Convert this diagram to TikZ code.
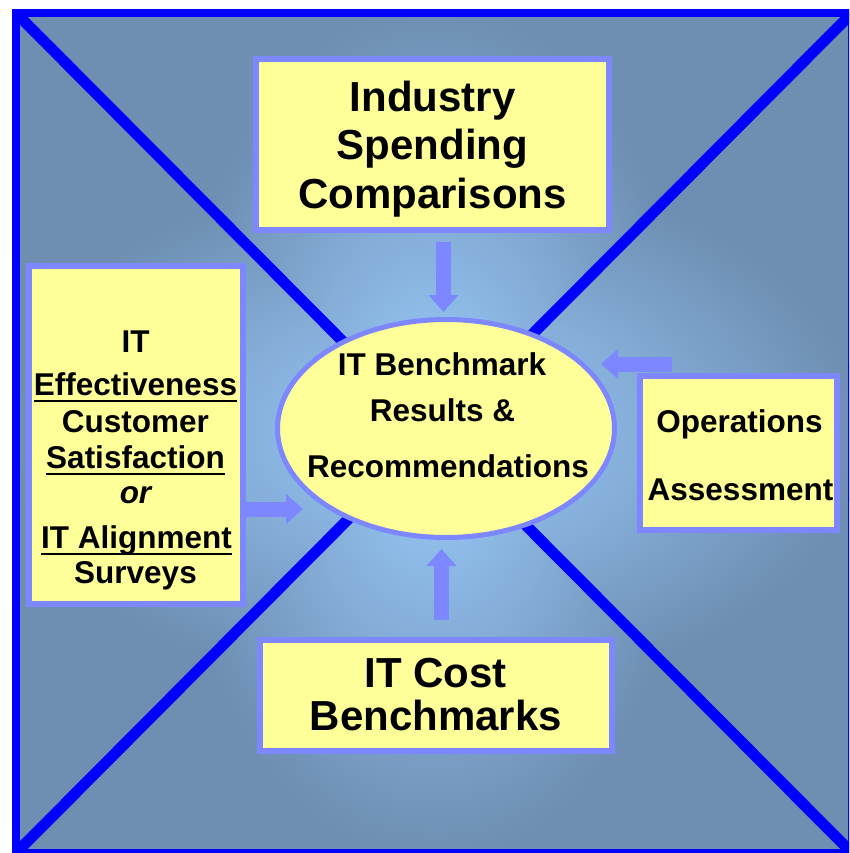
\documentclass[tikz,border=0pt]{standalone}
\usepackage{fontspec}
\setmainfont{Liberation Sans}
\usetikzlibrary{arrows.meta,shapes.geometric}
\definecolor{bgdark}{RGB}{110,142,178}
\definecolor{bglight}{RGB}{154,204,252}
\definecolor{lineblue}{RGB}{0,0,255}
\definecolor{edgeblue}{RGB}{125,135,255}
\definecolor{boxfill}{RGB}{255,255,153}
\newcommand\myul[1]{\setbox0\hbox{#1}\rlap{\rule[-7pt]{\wd0}{2.5pt}}\box0}
\begin{document}
\begin{tikzpicture}[x=1pt,y=-1pt,
  boxS/.style={draw=edgeblue, line width=6pt, fill=boxfill, inner sep=0pt, outer sep=0pt},
  bigT/.style={font=\fontsize{42}{48}\selectfont\bfseries, inner sep=0pt, anchor=base},
  midT/.style={font=\fontsize{31.5}{36}\selectfont\bfseries, inner sep=0pt, anchor=base},
  fat/.style={draw=edgeblue, line width=15pt, -{Triangle[width=29pt,length=17pt]}},
  diag/.style={draw=lineblue, line width=11pt},
  frame/.style={draw=lineblue, line width=8pt}]
\useasboundingbox (0,0) rectangle (849,853);
\clip (0,0) rectangle (849,853);
\coordinate (tl) at (16,13);
\coordinate (tr) at (852,13);
\coordinate (bl) at (16,853);
\coordinate (br) at (852,853);
\coordinate (cc) at (intersection of tl--br and tr--bl);
% background
\fill[bgdark] (tl) rectangle (br);
\begin{scope}
  \clip (tl) -- (tr) -- (cc) -- cycle (bl) -- (br) -- (cc) -- cycle;
  \shade[inner color=bglight, outer color=bgdark] (cc) ellipse [x radius=265pt, y radius=430pt];
\end{scope}
\begin{scope}
  \clip (tl) -- (bl) -- (cc) -- cycle (tr) -- (br) -- (cc) -- cycle;
  \shade[inner color=bglight, outer color=bgdark] (cc) ellipse [x radius=430pt, y radius=265pt];
\end{scope}
\draw[diag] (tl) -- (br);
\draw[diag] (tr) -- (bl);
\draw[frame] (tl) rectangle (br);
% boxes
\node[boxS, minimum width=353pt, minimum height=171pt] (topbox) at (432.5,144.5) {};
\node[boxS, minimum width=214pt, minimum height=338pt] (leftbox) at (136,435) {};
\node[boxS, minimum width=197pt, minimum height=154pt] (opbox) at (738.5,453) {};
\node[boxS, minimum width=352pt, minimum height=111pt] (botbox) at (436,695.5) {};
\node[ellipse, draw=edgeblue, line width=5pt, fill=boxfill, minimum width=337pt, minimum height=218pt, inner sep=0pt, outer sep=0pt] (res) at (446,428.5) {};
% arrows
\coordinate (ta) at ([xshift=11pt]topbox.south);
\draw[fat, shorten <=12pt, shorten >=7.5pt] (ta) -- (ta |- res.north);
\coordinate (ba) at ([xshift=5.5pt]botbox.north);
\draw[fat, shorten <=20pt, shorten >=11.5pt] (ba) -- (ba |- res.south);
\coordinate (la) at ([yshift=-74pt]leftbox.east);
\draw[fat, shorten >=143pt] (la) -- (la -| res.center);
\coordinate (ra) at ([xshift=-66.5pt,yshift=12pt]opbox.north);
\draw[fat, shorten >=155pt] (ra) -- (ra -| res.center);
% texts
\node[bigT] (t1) at (432.5,112) {Industry};
\node[bigT] (t2) at (432.5,160) {Spending};
\node[bigT] (t3) at (432.5,208) {Comparisons};
\node[bigT] (b1) at (435.5,687) {IT Cost};
\node[bigT] (b2) at (436,730) {Benchmarks};
\node[midT] (r1) at (442,375) {IT Benchmark};
\node[midT] (r2) at (442.5,421) {Results \&};
\node[midT] (r3) at (448,477) {Recommendations};
\node[midT] (o1) at (739.5,432) {Operations};
\node[midT] (o2) at (740.5,500) {Assessment};
\node[midT] (l1) at (135.5,352) {IT};
\node[midT] (l2) at (135.5,395) {\myul{Effectiveness}};
\node[midT] (l3) at (135.5,432) {Customer};
\node[midT] (l4) at (135.5,468) {\myul{Satisfaction}};
\node[midT] (l5) at (135.5,503) {\itshape or};
\node[midT] (l6) at (136.5,548) {\myul{IT Alignment}};
\node[midT] (l7) at (135.5,583) {Surveys};
\end{tikzpicture}
\end{document}
